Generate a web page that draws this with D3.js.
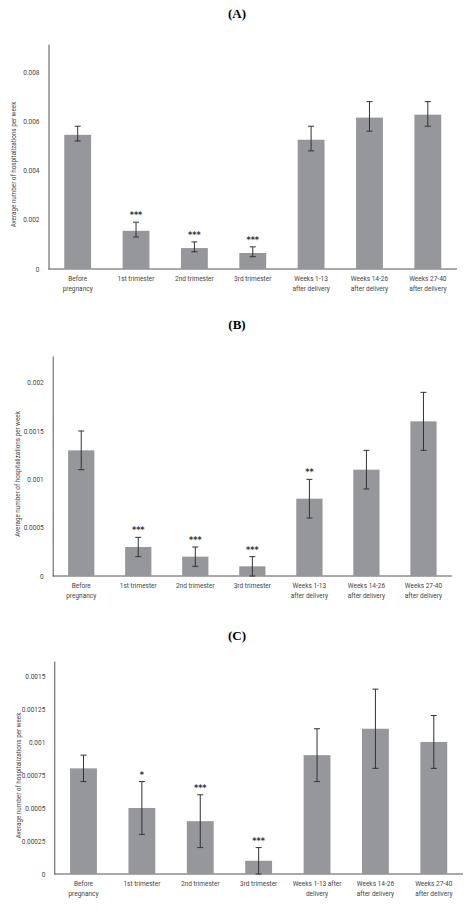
<!DOCTYPE html>
<html><head><meta charset="utf-8">
<script src="https://cdn.jsdelivr.net/npm/d3@7"></script>
<style>body{margin:0;background:#fff}svg{display:block}</style>
</head><body>
<svg id="c" width="474" height="911"></svg>
<script>
const categoriesAB = [["Before","pregnancy"],["1st trimester"],["2nd trimester"],["3rd trimester"],["Weeks 1-13","after delivery"],["Weeks 14-26","after delivery"],["Weeks 27-40","after delivery"]];
const categoriesC = [["Before","pregnancy"],["1st trimester"],["2nd trimester"],["3rd trimester"],["Weeks 1-13 after","delivery"],["Weeks 14-26","after delivery"],["Weeks 27-40","after delivery"]];
const valuesA = [0.00545,0.00155,0.00085,0.00065,0.00525,0.00615,0.00627];
const lowA = [0.0052,0.0013,0.0007,0.0005,0.0048,0.0056,0.0058];
const highA = [0.0058,0.0019,0.0011,0.0009,0.0058,0.0068,0.0068];
const starsA = ["","***","***","***","","",""];
const ticksA = [0,0.002,0.004,0.006,0.008];
const tickLabelsA = ["0","0.002","0.004","0.006","0.008"];
const valuesB = [0.0013,0.0003,0.0002,0.0001,0.0008,0.0011,0.0016];
const lowB = [0.0011,0.0002,0.0001,0,0.0006,0.0009,0.0013];
const highB = [0.0015,0.0004,0.0003,0.0002,0.001,0.0013,0.0019];
const starsB = ["","***","***","***","**","",""];
const ticksB = [0,0.0005,0.001,0.0015,0.002];
const tickLabelsB = ["0","0.0005","0.001","0.0015","0.002"];
const valuesC = [0.0008,0.0005,0.0004,0.0001,0.0009,0.0011,0.001];
const lowC = [0.0007,0.0003,0.0002,0,0.0007,0.0008,0.0008];
const highC = [0.0009,0.0007,0.0006,0.0002,0.0011,0.0014,0.0012];
const starsC = ["","*","***","***","","",""];
const ticksC = [0,0.00025,0.0005,0.00075,0.001,0.00125,0.0015];
const tickLabelsC = ["0","0.00025","0.0005","0.00075","0.001","0.00125","0.0015"];

const svg = d3.select("#c");
function panel(o){
  const g = svg.append("g");
  g.append("text").attr("x",237).attr("y",o.titleY).attr("text-anchor","middle")
   .attr("font-family","Liberation Serif").attr("font-weight","bold").attr("font-size",13).text(o.title);
  const x = d3.scaleBand().domain(d3.range(7)).range([o.left,o.right]).paddingInner(0.54).paddingOuter(0.27);
  const y = d3.scaleLinear().domain([0,o.max]).range([o.base,o.top]);
  const ya = d3.axisLeft(y).tickValues(o.ticks).tickFormat((d,i)=>o.tickLabels[i]).tickSize(0).tickPadding(9);
  const ag = g.append("g").attr("transform",`translate(${o.left},0)`).call(ya);
  ag.select(".domain").attr("stroke","#555");
  ag.selectAll("text").attr("font-family","Roboto").attr("font-size",6.5).attr("fill","#444");
  g.append("line").attr("x1",o.left).attr("x2",o.right).attr("y1",o.base).attr("y2",o.base).attr("stroke","#555");
  g.append("text").attr("transform",`translate(${o.left-33},${(o.top+o.base)/2+8}) rotate(-90)`)
   .attr("text-anchor","middle").attr("font-family","Roboto").attr("font-size",6.3).attr("fill","#444")
   .text("Average number of hospitalizations per week");
  const cx = i=>x(i)+x.bandwidth()/2;
  g.selectAll("rect.b").data(o.values).join("rect").attr("x",(d,i)=>x(i)).attr("width",x.bandwidth())
   .attr("y",d=>y(d)).attr("height",d=>o.base-y(d)).attr("fill","#96979a");
  o.values.forEach((d,i)=>{
    const e = g.append("g").attr("stroke","#333").attr("stroke-width",1);
    e.append("line").attr("x1",cx(i)).attr("x2",cx(i)).attr("y1",y(o.low[i])).attr("y2",y(o.high[i]));
    [o.low[i],o.high[i]].forEach(v=>e.append("line").attr("x1",cx(i)-3).attr("x2",cx(i)+3).attr("y1",y(v)).attr("y2",y(v)));
    if(o.stars[i]) g.append("text").attr("x",cx(i)).attr("y",y(o.high[i])-4).attr("text-anchor","middle")
      .attr("font-family","DejaVu Sans").attr("font-weight","bold").attr("font-size",8).attr("fill","#333").text(o.stars[i]);
    o.cats[i].forEach((l,j)=>g.append("text").attr("x",cx(i)).attr("y",o.base+12+j*10).attr("text-anchor","middle")
      .attr("font-family","Roboto").attr("font-size",6.5).attr("fill","#444").text(l));
  });
}
panel({title:"(A)",titleY:18,left:48.5,right:457,top:44,base:269,max:0.00914,values:valuesA,low:lowA,high:highA,stars:starsA,ticks:ticksA,tickLabels:tickLabelsA,cats:categoriesAB});
panel({title:"(B)",titleY:329,left:52.7,right:452,top:356,base:576,max:0.002276,values:valuesB,low:lowB,high:highB,stars:starsB,ticks:ticksB,tickLabels:tickLabelsB,cats:categoriesAB});
panel({title:"(C)",titleY:640,left:54.3,right:463,top:661,base:874,max:0.001613,values:valuesC,low:lowC,high:highC,stars:starsC,ticks:ticksC,tickLabels:tickLabelsC,cats:categoriesC});
</script>
</body></html>
